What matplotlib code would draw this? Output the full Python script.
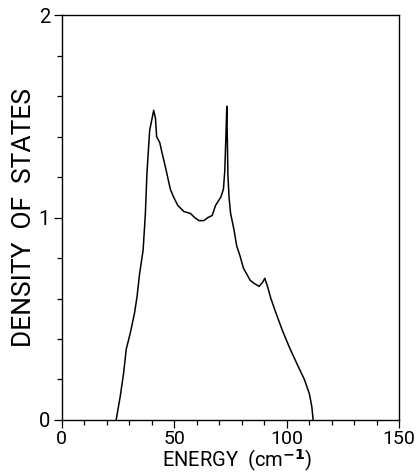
import matplotlib
matplotlib.use("Agg")
import matplotlib.pyplot as plt
from matplotlib.ticker import MultipleLocator

# density of states curve
energy = [24.2, 26.0, 27.5, 28.7, 30.5, 32.4, 33.5, 34.6, 36.2, 37.2, 37.9, 39.1,
          40.9, 41.7, 42.2, 43.6, 44.6, 46.1, 48.3, 49.8, 51.6, 54.3, 57.3, 59.1,
          61.0, 63.2, 65.0, 66.9, 68.4, 70.7, 71.9, 72.5, 73.0, 73.4, 73.9, 74.4,
          75.1, 76.6, 77.8, 79.3, 80.8, 83.8, 85.5, 87.8, 89.3, 90.3, 91.5, 93.0,
          95.2, 98.2, 101.2, 104.9, 107.9, 110.1, 111.2, 111.8]
dos = [0.0, 0.115, 0.23, 0.35, 0.43, 0.53, 0.61, 0.72, 0.84, 1.02, 1.22, 1.43,
       1.53, 1.49, 1.40, 1.37, 1.32, 1.25, 1.14, 1.10, 1.06, 1.03, 1.02, 1.00,
       0.985, 0.985, 1.00, 1.01, 1.06, 1.10, 1.14, 1.23, 1.40, 1.55, 1.21, 1.10,
       1.02, 0.94, 0.86, 0.81, 0.75, 0.69, 0.675, 0.66, 0.68, 0.70, 0.66, 0.60,
       0.53, 0.44, 0.36, 0.27, 0.20, 0.13, 0.066, 0.0]

xticks = [0, 50, 100, 150]
yticks = [0, 1, 2]

plt.rcParams['font.family'] = ['Roboto', 'DejaVu Sans']
plt.rcParams['mathtext.default'] = 'regular'

fig = plt.figure(figsize=(4.17, 4.74), dpi=100)
ax = fig.add_axes([0.148, 0.114, 0.809, 0.854])

ax.plot(energy, dos, color='black', linewidth=1.1)

ax.set_xlim(0, 150)
ax.set_ylim(0, 2)
ax.set_xticks(xticks)
ax.set_yticks(yticks)
ax.set_xticklabels([str(t) for t in xticks], fontsize=14)
ax.set_yticklabels([str(t) for t in yticks], fontsize=14.5)
ax.xaxis.set_minor_locator(MultipleLocator(10))
ax.yaxis.set_minor_locator(MultipleLocator(0.2))
ax.tick_params(which='major', direction='out', length=5.5, width=0.9, pad=3)
ax.tick_params(axis='x', which='major', pad=2)
ax.tick_params(which='minor', direction='out', length=3.5, width=0.9)
ax.tick_params(top=False, right=False, which='both')

for s in ax.spines.values():
    s.set_linewidth(1.0)

ax.set_xlabel(r'ENERGY  (cm$^{\mathbf{-1}}$)', fontsize=14.5, va='center')
ax.xaxis.set_label_coords(0.52, -0.1)
ax.set_ylabel('DENSITY  OF  STATES', fontsize=19, labelpad=2)

fig.savefig('out.png', dpi=100)
